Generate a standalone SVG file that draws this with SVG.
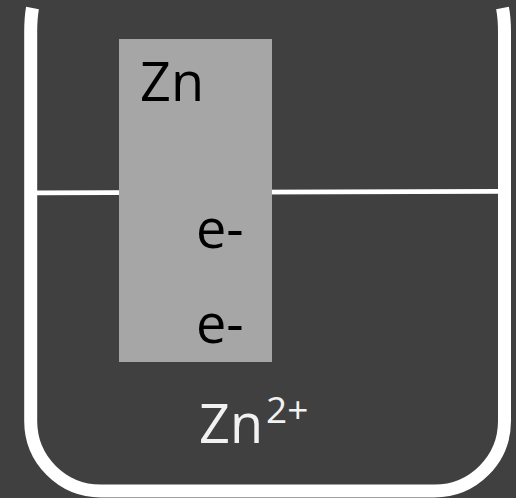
<svg xmlns="http://www.w3.org/2000/svg" width="516" height="498" viewBox="0 0 516 498">
  <style>
    .lbl { font-family: "Open Sans", "Liberation Sans", sans-serif; font-size: 54px; }
    .dark { fill: #000000; }
    .light { fill: #F2F2F2; }
  </style>
  <rect x="0" y="0" width="516" height="498" fill="#404040"/>
  <g id="beaker">
    <path d="M32.5,8 Q30.7,18 30.7,32 L30.7,421 A70,70 0 0 0 100.7,491 L434.5,491 A70,70 0 0 0 504.5,421 L504.5,32 Q504.5,18 502.5,8" fill="none" stroke="#FFFFFF" stroke-width="13"/>
  </g>
  <g id="water-level">
    <line x1="37" y1="192.8" x2="498" y2="191.3" stroke="#FFFFFF" stroke-width="4.8"/>
  </g>
  <g id="zinc-electrode">
    <rect x="119" y="39" width="153" height="323" fill="#A6A6A6"/>
    <text class="lbl dark" x="140" y="101">Zn</text>
    <text class="lbl dark" x="196" y="248">e-</text>
    <text class="lbl dark" x="196" y="343">e-</text>
  </g>
  <g id="ion">
    <text class="lbl light" x="199" y="443">Zn<tspan font-size="37" dx="3" dy="-20">2+</tspan></text>
  </g>
</svg>
